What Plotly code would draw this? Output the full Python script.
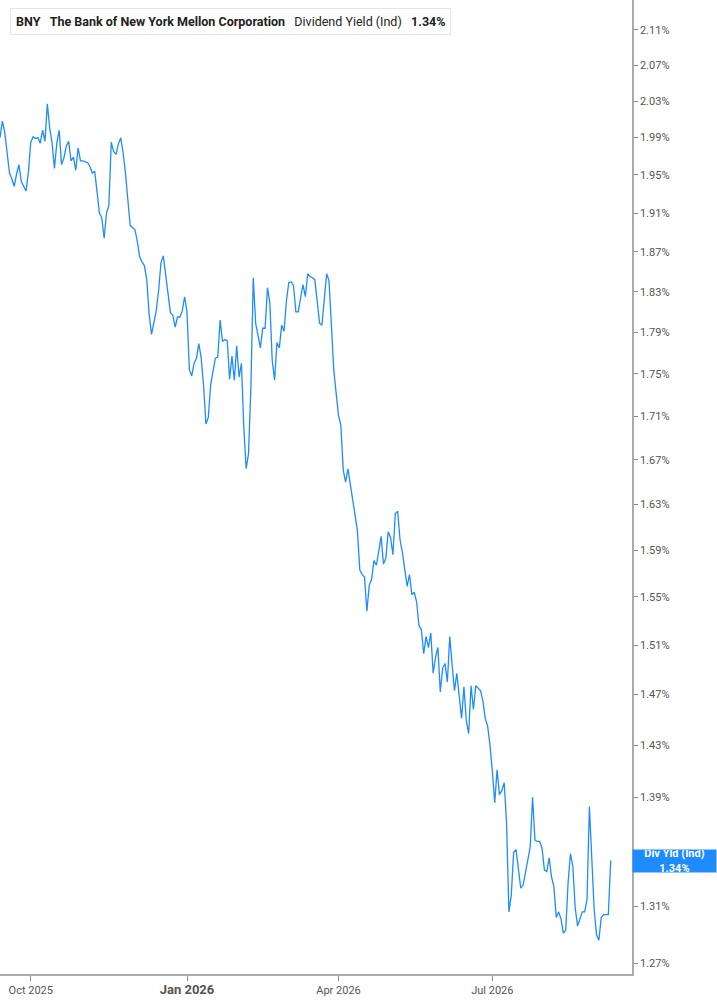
import numpy as np
import pandas as pd
import plotly.graph_objects as go

# BNY dividend yield (indicated), % - one value per trading day from 12 Sep 2025
start_date = "2025-09-12"
div_yield = [
    1.990, 2.008, 1.996, 1.970, 1.952, 1.946, 1.938, 1.951, 1.961, 1.943,
    1.937, 1.933, 1.953, 1.985, 1.991, 1.989, 1.990, 1.984, 1.998, 1.986,
    2.027, 2.000, 1.984, 1.957, 1.984, 1.998, 1.961, 1.968, 1.981, 1.986,
    1.965, 1.969, 1.955, 1.979, 1.965, 1.965, 1.964, 1.963, 1.959, 1.952,
    1.954, 1.928, 1.910, 1.905, 1.884, 1.910, 1.918, 1.985, 1.975, 1.972,
    1.983, 1.990, 1.974, 1.952, 1.920, 1.897, 1.895, 1.893, 1.881, 1.865,
    1.860, 1.856, 1.842, 1.808, 1.788, 1.800, 1.811, 1.831, 1.859, 1.866,
    1.846, 1.823, 1.809, 1.807, 1.795, 1.805, 1.805, 1.811, 1.825, 1.810,
    1.754, 1.748, 1.760, 1.765, 1.779, 1.765, 1.739, 1.703, 1.709, 1.740,
    1.753, 1.765, 1.766, 1.802, 1.781, 1.783, 1.782, 1.745, 1.767, 1.744,
    1.777, 1.747, 1.760, 1.700, 1.662, 1.676, 1.738, 1.844, 1.799, 1.785,
    1.775, 1.794, 1.794, 1.834, 1.819, 1.763, 1.744, 1.780, 1.775, 1.797,
    1.791, 1.821, 1.839, 1.840, 1.836, 1.810, 1.810, 1.824, 1.837, 1.825,
    1.848, 1.845, 1.844, 1.842, 1.819, 1.799, 1.797, 1.821, 1.848, 1.841,
    1.795, 1.754, 1.732, 1.711, 1.702, 1.661, 1.650, 1.662, 1.648, 1.634,
    1.620, 1.607, 1.573, 1.569, 1.567, 1.538, 1.560, 1.565, 1.581, 1.577,
    1.589, 1.602, 1.578, 1.583, 1.606, 1.601, 1.586, 1.622, 1.624, 1.599,
    1.588, 1.573, 1.559, 1.569, 1.552, 1.554, 1.546, 1.526, 1.523, 1.503,
    1.517, 1.508, 1.520, 1.487, 1.500, 1.508, 1.472, 1.491, 1.495, 1.480,
    1.517, 1.494, 1.473, 1.487, 1.468, 1.451, 1.476, 1.449, 1.439, 1.477,
    1.458, 1.477, 1.475, 1.473, 1.465, 1.451, 1.445, 1.430, 1.410, 1.386,
    1.411, 1.392, 1.395, 1.401, 1.371, 1.306, 1.318, 1.349, 1.351, 1.336,
    1.323, 1.325, 1.334, 1.345, 1.353, 1.390, 1.358, 1.357, 1.357, 1.352,
    1.336, 1.335, 1.345, 1.331, 1.324, 1.302, 1.306, 1.301, 1.291, 1.293,
    1.327, 1.348, 1.339, 1.309, 1.296, 1.301, 1.306, 1.306, 1.315, 1.383,
    1.339, 1.308, 1.290, 1.286, 1.302, 1.304, 1.304, 1.304, 1.343,
]
dates = pd.bdate_range(start_date, periods=len(div_yield))

y_ticks = [2.11, 2.07, 2.03, 1.99, 1.95, 1.91, 1.87, 1.83, 1.79, 1.75, 1.71,
           1.67, 1.63, 1.59, 1.55, 1.51, 1.47, 1.43, 1.39, 1.31, 1.27]
x_ticks = ["2025-10-01", "2026-01-01", "2026-04-01", "2026-07-01"]
x_labels = ["Oct 2025",
            "<span style='font-size:13px'><b>Jan 2026</b></span>",
            "Apr 2026", "Jul 2026"]

blue = "#1e8cff"
grey = "#555555"

fig = go.Figure()
fig.add_trace(go.Scatter(x=dates, y=div_yield, mode="lines",
                         line=dict(color=blue, width=1.3), hoverinfo="x+y"))

fig.update_layout(
    width=717, height=1005,
    margin=dict(l=0, r=85, t=0, b=31),
    paper_bgcolor="white", plot_bgcolor="white",
    showlegend=False,
    font=dict(family="Roboto", size=11, color=grey),
)
fig.update_xaxes(
    range=["2025-09-12", "2026-09-22"],
    rangebreaks=[dict(bounds=["sat", "mon"])],
    tickvals=x_ticks, ticktext=x_labels,
    showgrid=False, zeroline=False,
    showline=True, linecolor="#aaaaaa", linewidth=1.5,
    ticks="outside", ticklen=5, tickcolor="#888888",
    tickfont=dict(family="Roboto", size=11, color=grey),
)
fig.update_yaxes(
    type="log", side="right",
    range=[np.log10(1.2626), np.log10(2.1447)],
    tickvals=y_ticks, ticktext=[f"{t:.2f}%" for t in y_ticks],
    showgrid=False, zeroline=False,
    showline=True, linecolor="#aaaaaa", linewidth=1.5,
    ticks="outside", ticklen=4, tickcolor="#888888",
    tickfont=dict(family="Roboto", size=11, color=grey),
)

# last value tag on the right axis
fig.add_annotation(
    xref="paper", x=1, xanchor="left", yref="y", y=np.log10(div_yield[-1]),
    text="<b>Div Yld (Ind)<br>1.34%</b>", showarrow=False,
    bgcolor=blue, font=dict(family="Roboto", size=11, color="white"),
    width=83, height=22, borderpad=0, align="center",
)

# header box
fig.add_annotation(
    xref="paper", yref="paper", x=10 / 632, y=1 - 8 / 974,
    xanchor="left", yanchor="top", showarrow=False,
    text=("<b>BNY</b>   <b>The Bank of New York Mellon Corporation</b>   "
          "Dividend Yield (Ind)   <b>1.34%</b>"),
    font=dict(family="Roboto", size=12.5, color="#222222"),
    bgcolor="white", bordercolor="#e6e6e6", borderwidth=1, borderpad=5,
)
fig.add_shape(type="rect", xref="paper", yref="paper",
              x0=10 / 632, x1=13 / 632, y0=1 - 33 / 974, y1=1 - 8 / 974,
              fillcolor=blue, line_width=0)

fig.write_html("out.html", config={"displayModeBar": False},
               post_script="document.body.style.margin='0';")
